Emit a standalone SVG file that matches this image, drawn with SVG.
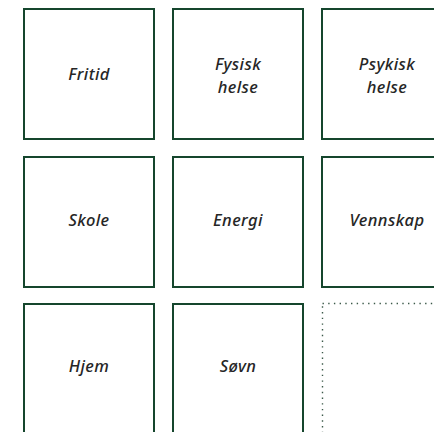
<svg xmlns="http://www.w3.org/2000/svg" width="434" height="432" viewBox="0 0 434 432">
  <style>
    .card { fill: #ffffff; stroke: #15462d; stroke-width: 2; }
    .empty { fill: none; stroke: #3c5a4a; stroke-width: 1.4; stroke-dasharray: 1.4 4.3; }
    .label { font-family: "Noto Sans", "Open Sans", sans-serif; font-style: italic; font-weight: 500; font-size: 16.5px; fill: #262626; text-anchor: middle; letter-spacing: 0.4px; }
  </style>
  <rect width="434" height="432" fill="#ffffff"/>

  <g id="fritid">
    <rect class="card" x="24" y="9" width="130" height="130"/>
    <text class="label" x="89" y="80">Fritid</text>
  </g>
  <g id="fysisk-helse">
    <rect class="card" x="173" y="9" width="130" height="130"/>
    <text class="label" x="238" y="70">Fysisk</text>
    <text class="label" x="238" y="93">helse</text>
  </g>
  <g id="psykisk-helse">
    <rect class="card" x="322" y="9" width="130" height="130"/>
    <text class="label" x="387" y="70">Psykisk</text>
    <text class="label" x="387" y="93">helse</text>
  </g>

  <g id="skole">
    <rect class="card" x="24" y="157" width="130" height="130"/>
    <text class="label" x="89" y="226">Skole</text>
  </g>
  <g id="energi">
    <rect class="card" x="173" y="157" width="130" height="130"/>
    <text class="label" x="238" y="226">Energi</text>
  </g>
  <g id="vennskap">
    <rect class="card" x="322" y="157" width="130" height="130"/>
    <text class="label" x="387" y="226">Vennskap</text>
  </g>

  <g id="hjem">
    <rect class="card" x="24" y="304" width="130" height="140"/>
    <text class="label" x="89" y="372">Hjem</text>
  </g>
  <g id="sovn">
    <rect class="card" x="173" y="304" width="130" height="140"/>
    <text class="label" x="238" y="372">Søvn</text>
  </g>
  <g id="empty-slot">
    <rect class="empty" x="322.5" y="303.5" width="130" height="140"/>
  </g>

  <g id="connectors"></g>
</svg>
